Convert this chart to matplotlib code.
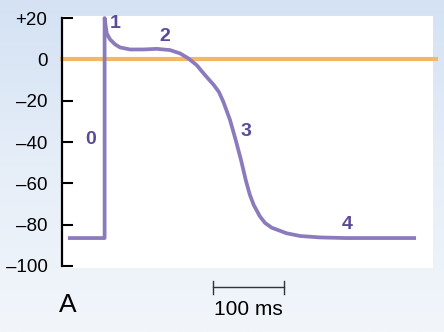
import numpy as np
import matplotlib.pyplot as plt
from matplotlib.colors import LinearSegmentedColormap

plt.rcParams['font.family'] = ['Liberation Sans', 'DejaVu Sans']

# action potential trace (ms, mV)
time_ms = [11, 60, 60, 63.0, 67.6, 74.6, 81.7, 95.8, 114.5, 133.4, 152.1, 166.2, 177.9,
           189.7, 201.4, 214, 221, 227.2, 236.6, 244.6, 252.1, 259.2, 264.5, 270, 278.9,
           286, 295.4, 316.5, 335.2, 363.4, 400, 496]
voltage_mv = [-86.5, -86.5, 20, 12.6, 9.7, 7.3, 5.8, 4.8, 4.8, 5.1, 4.5, 2.9, 0.5,
              -2.8, -7.6, -12.5, -15.8, -20.5, -29.3, -39.0, -48.7, -59.0, -65.5, -70.5, -76.1,
              -79.2, -81.5, -84.2, -85.5, -86.2, -86.5, -86.5]

phase_labels = ['0', '1', '2', '3', '4']
phase_t = [41, 75, 145, 259, 402]
phase_v = [-39, 17.5, 11.3, -35, -80]

y_ticks = [20, 0, -20, -40, -60, -80, -100]
y_tick_labels = ['+20', '0', '\u201320', '\u201340', '\u201360', '\u201380', '\u2013100']

scale_start = 213
scale_len = 100

fig = plt.figure(figsize=(4.44, 3.32), dpi=100)

# light blue backdrop
bg = fig.add_axes([0, 0, 1, 1], zorder=0)
cmap = LinearSegmentedColormap.from_list('bg', ['#d4e2f4', '#e6eef8', '#f2f6fb'])
bg.imshow(np.linspace(0, 1, 256).reshape(-1, 1), aspect='auto', cmap=cmap, extent=[0, 1, 0, 1])
bg.axis('off')

ax = fig.add_axes([62 / 444, 1 - 268 / 332, 371 / 444, 252 / 332], zorder=1)
ax.set_facecolor('white')
for s in ['top', 'right', 'bottom']:
    ax.spines[s].set_visible(False)
ax.spines['left'].set_bounds(-100, 20)
ax.spines['left'].set_linewidth(1.6)
ax.set_xlim(0, 522.5)
ax.set_ylim(-101, 21)
ax.set_xticks([])
ax.set_yticks(y_ticks)
ax.set_yticklabels(y_tick_labels)
ax.tick_params(axis='y', direction='in', length=8, width=1.5, pad=10.5, labelsize=13.5)

# zero line
ax.plot([0, 527], [0, 0], color='#f3b866', lw=3, clip_on=False, zorder=2)
ax.plot(time_ms, voltage_mv, color='#8b7bbd', lw=2.7, solid_joinstyle='round',
        clip_on=False, zorder=3)

for lbl, t, v in zip(phase_labels, phase_t, phase_v):
    ax.text(t, v, lbl, color='#5b4a99', fontweight='bold', fontsize=14,
            ha='center', va='center', zorder=4)

# scale bar
sx = [scale_start, scale_start + scale_len]
ax.plot(sx, [-110, -110], color='#333333', lw=1, clip_on=False)
for x in sx:
    ax.plot([x, x], [-107.5, -113.5], color='#333333', lw=1, clip_on=False)
ax.text(sum(sx) / 2, -121, '100 ms', fontsize=15, ha='center', va='center')
ax.text(8.5, -119, 'A', fontsize=19, ha='center', va='center')

fig.savefig('out.png', dpi=100)
